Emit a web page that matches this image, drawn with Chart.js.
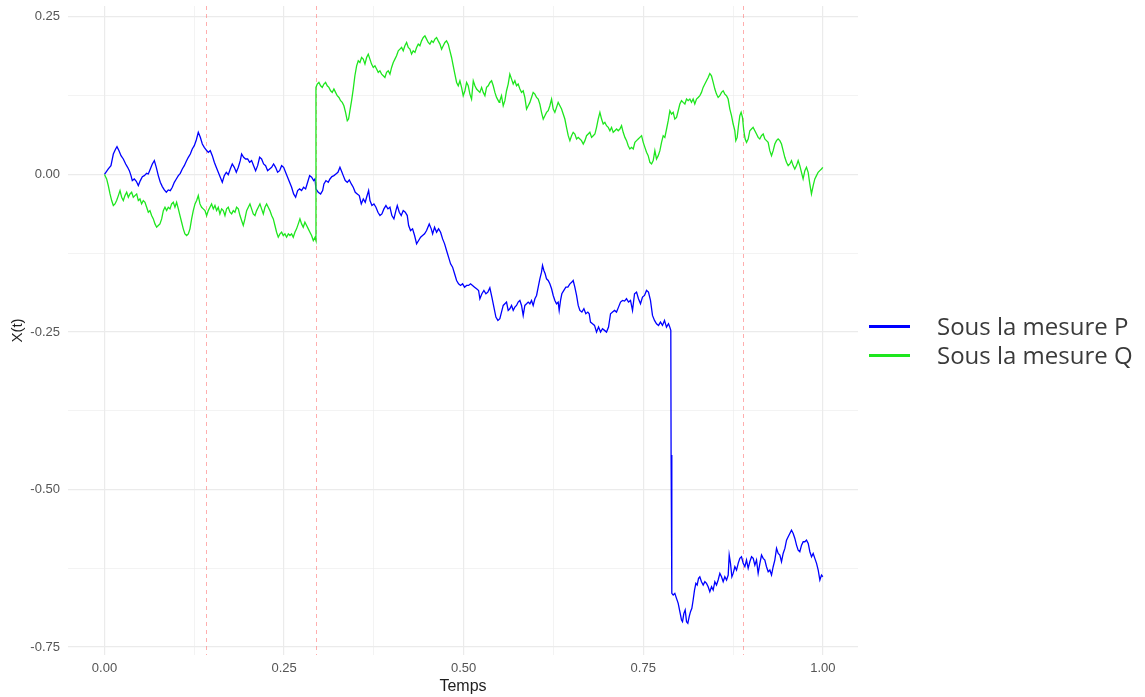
<!DOCTYPE html>
<html lang="fr">
<head>
<meta charset="utf-8">
<title>X(t) sous P et Q</title>
<script src="https://cdn.jsdelivr.net/npm/chart.js@4/dist/chart.umd.min.js"></script>
<style>
  html, body { margin: 0; padding: 0; background: #ffffff; }
  #wrap { position: relative; width: 1145px; height: 697px; }
  #chart { position: absolute; left: 0; top: 0; }
  .legend { position: absolute; left: 869px; font-family: "Open Sans", "Noto Sans", sans-serif; font-size: 24px; color: #3a3a3a; }
  .legend .row { position: absolute; left: 0; white-space: nowrap; height: 30px; line-height: 30px; }
  .legend .key { position: absolute; left: 0; top: 14px; width: 41px; height: 3px; }
  .legend .txt { position: absolute; left: 68px; top: 0; }
</style>
</head>
<body>
<div id="wrap">
  <canvas id="chart" width="1145" height="697"></canvas>
  <div class="legend" id="legend"></div>
</div>
<script>
// Sample paths of X(t): [t, X(t)]
const samplesP = [
  [0,0],[0.0053,0.0087],[0.0090,0.0139],[0.0123,0.0324],[0.0155,0.0404],[0.0174,0.0441],[0.0202,0.0377],[0.0230,0.0298],[0.0262,0.0245],[0.0295,0.0166],
  [0.0322,0.0113],[0.0346,0.0060],[0.0369,-0.0019],[0.0387,-0.0098],[0.0415,-0.0072],[0.0443,-0.0109],[0.0471,-0.0177],[0.0499,-0.0098],[0.0527,-0.0035],[0.0554,-0.0019],
  [0.0587,0.0018],[0.0610,0.0007],[0.0638,0.0087],[0.0666,0.0166],[0.0694,0.0219],[0.0721,0.0113],[0.0749,-0.0019],[0.0777,-0.0125],[0.0805,-0.0193],[0.0833,-0.0246],
  [0.0861,-0.0283],[0.0888,-0.0246],[0.0916,-0.0257],[0.0944,-0.0204],[0.0972,-0.0125],[0.1000,-0.0072],[0.1028,-0.0019],[0.1055,0.0018],[0.1083,0.0087],[0.1111,0.0139],
  [0.1139,0.0208],[0.1167,0.0272],[0.1195,0.0324],[0.1222,0.0404],[0.1250,0.0456],[0.1278,0.0546],[0.1306,0.0668],[0.1334,0.0589],[0.1362,0.0483],[0.1389,0.0429],
  [0.1417,0.0387],[0.1445,0.0351],[0.1473,0.0377],[0.1501,0.0298],[0.1529,0.0193],[0.1556,0.0113],[0.1584,0.0034],[0.1612,-0.0045],[0.1640,-0.0125],[0.1668,-0.0019],
  [0.1696,0.0034],[0.1723,-0.0003],[0.1751,0.0087],[0.1779,0.0166],[0.1807,0.0113],[0.1835,0.0034],[0.1863,0.0113],[0.1890,0.0219],[0.1909,0.0324],[0.1937,0.0272],
  [0.1965,0.0245],[0.1993,0.0245],[0.2020,0.0193],[0.2048,0.0219],[0.2076,0.0139],[0.2104,0.0060],[0.2132,0.0139],[0.2160,0.0272],[0.2187,0.0245],[0.2215,0.0166],
  [0.2243,0.0139],[0.2271,0.0060],[0.2299,0.0087],[0.2327,0.0113],[0.2354,0.0166],[0.2382,0.0113],[0.2410,0.0034],[0.2438,0.0060],[0.2466,0.0139],[0.2494,0.0113],
  [0.2521,0.0034],[0.2549,-0.0045],[0.2577,-0.0125],[0.2605,-0.0204],[0.2633,-0.0310],[0.2661,-0.0362],[0.2689,-0.0257],[0.2716,-0.0230],[0.2744,-0.0257],[0.2772,-0.0204],
  [0.2800,-0.0230],[0.2828,-0.0125],[0.2856,-0.0019],[0.2884,-0.0045],[0.2912,-0.0098],
  [0.2930,-0.0072],[0.2944,-0.0230],[0.2976,-0.0283],[0.3009,-0.0310],[0.3037,-0.0257],[0.3055,-0.0151],[0.3083,-0.0098],[0.3115,-0.0125],[0.3139,-0.0072],[0.3166,-0.0035],
  [0.3194,-0.0019],[0.3222,0.0007],[0.3250,0.0034],[0.3278,0.0113],[0.3306,0.0034],[0.3324,-0.0019],[0.3352,-0.0098],[0.3380,-0.0125],[0.3408,-0.0088],[0.3436,-0.0151],
  [0.3463,-0.0204],[0.3491,-0.0283],[0.3519,-0.0310],[0.3547,-0.0336],[0.3575,-0.0468],[0.3603,-0.0389],[0.3630,-0.0442],[0.3649,-0.0362],[0.3677,-0.0257],[0.3696,-0.0415],
  [0.3723,-0.0494],[0.3751,-0.0468],[0.3779,-0.0521],[0.3807,-0.0600],[0.3835,-0.0653],[0.3862,-0.0626],[0.3890,-0.0547],[0.3918,-0.0494],[0.3946,-0.0547],[0.3974,-0.0521],
  [0.4001,-0.0653],[0.4029,-0.0706],[0.4057,-0.0574],[0.4076,-0.0494],[0.4104,-0.0600],[0.4131,-0.0653],[0.4159,-0.0574],[0.4187,-0.0600],[0.4215,-0.0653],[0.4234,-0.0811],
  [0.4261,-0.0891],[0.4289,-0.0864],[0.4317,-0.0970],[0.4345,-0.1102],[0.4373,-0.1049],[0.4401,-0.0996],[0.4428,-0.0970],[0.4456,-0.0943],[0.4484,-0.0891],[0.4521,-0.0785],
  [0.4549,-0.0864],[0.4568,-0.0943],[0.4595,-0.0838],[0.4623,-0.0917],[0.4651,-0.0864],[0.4679,-0.0917],[0.4707,-0.1023],[0.4735,-0.1102],[0.4762,-0.1208],[0.4790,-0.1313],
  [0.4818,-0.1419],[0.4846,-0.1472],[0.4874,-0.1577],[0.4902,-0.1683],[0.4929,-0.1736],[0.4957,-0.1762],[0.4985,-0.1736],[0.5013,-0.1789],[0.5041,-0.1762],[0.5069,-0.1762],
  [0.5096,-0.1736],[0.5124,-0.1762],[0.5152,-0.1789],[0.5180,-0.1815],[0.5208,-0.1842],[0.5226,-0.1973],[0.5254,-0.1894],[0.5282,-0.1842],[0.5310,-0.1894],[0.5337,-0.1868],
  [0.5365,-0.1799],[0.5393,-0.1947],[0.5421,-0.2106],[0.5449,-0.2264],[0.5477,-0.2317],
  [0.5504,-0.2290],[0.5527,-0.2185],[0.5551,-0.2079],[0.5574,-0.2053],[0.5597,-0.2026],[0.5620,-0.2158],[0.5643,-0.2132],[0.5667,-0.2079],[0.5690,-0.2158],[0.5713,-0.2106],
  [0.5736,-0.2079],[0.5759,-0.2026],[0.5783,-0.2000],[0.5806,-0.2079],[0.5829,-0.2238],[0.5852,-0.2079],[0.5876,-0.2053],[0.5899,-0.2026],[0.5922,-0.2053],[0.5945,-0.2000],
  [0.5968,-0.2079],[0.5992,-0.1973],[0.6015,-0.1921],[0.6038,-0.1789],[0.6061,-0.1657],[0.6084,-0.1551],[0.6098,-0.1445],[0.6117,-0.1524],[0.6135,-0.1577],[0.6154,-0.1657],
  [0.6177,-0.1683],[0.6200,-0.1736],[0.6224,-0.1815],[0.6247,-0.1921],[0.6270,-0.2000],[0.6293,-0.2053],[0.6316,-0.2026],[0.6330,-0.2158],[0.6349,-0.2000],[0.6367,-0.1894],
  [0.6395,-0.1841],[0.6423,-0.1789],[0.6451,-0.1789],[0.6479,-0.1736],[0.6507,-0.1709],[0.6525,-0.1683],[0.6548,-0.1789],[0.6572,-0.1921],[0.6595,-0.2079],[0.6618,-0.2158],
  [0.6646,-0.2185],[0.6674,-0.2132],[0.6701,-0.2211],[0.6729,-0.2185],[0.6748,-0.2211],[0.6766,-0.2343],[0.6794,-0.2370],[0.6822,-0.2396],[0.6850,-0.2502],[0.6878,-0.2423],
  [0.6906,-0.2502],[0.6933,-0.2449],[0.6961,-0.2475],[0.6989,-0.2502],[0.7017,-0.2423],[0.7045,-0.2211],[0.7073,-0.2185],[0.7101,-0.2158],[0.7128,-0.2185],[0.7156,-0.2106],
  [0.7184,-0.2026],[0.7212,-0.2000],[0.7240,-0.2010],[0.7267,-0.1973],[0.7295,-0.2026],[0.7323,-0.2000],[0.7351,-0.2158],[0.7379,-0.1894],[0.7407,-0.1868],[0.7434,-0.1973],
  [0.7462,-0.2053],[0.7490,-0.1947],[0.7518,-0.1921],[0.7546,-0.1841],[0.7573,-0.1868],[0.7601,-0.2000],[0.7629,-0.2238],[0.7657,-0.2317],[0.7685,-0.2370],[0.7713,-0.2396],
  [0.7740,-0.2343],[0.7768,-0.2396],[0.7796,-0.2317],[0.7824,-0.2423],[0.7852,-0.2370],[0.7870,-0.2423],[0.7884,-0.2475],
  [0.7888,-0.4453],[0.7898,-0.6649],
  [0.7917,-0.6675],[0.7940,-0.6649],[0.7963,-0.6728],[0.7987,-0.6807],[0.8010,-0.6939],[0.8033,-0.7071],[0.8047,-0.7098],[0.8066,-0.6966],[0.8084,-0.6913],[0.8103,-0.7098],
  [0.8121,-0.7124],[0.8140,-0.7019],[0.8158,-0.6939],[0.8177,-0.6886],[0.8195,-0.6754],[0.8214,-0.6596],[0.8233,-0.6490],[0.8251,-0.6517],[0.8270,-0.6411],[0.8288,-0.6385],
  [0.8311,-0.6464],[0.8335,-0.6517],[0.8358,-0.6464],[0.8381,-0.6490],[0.8404,-0.6543],[0.8427,-0.6622],[0.8451,-0.6543],[0.8474,-0.6596],[0.8497,-0.6464],[0.8520,-0.6517],
  [0.8543,-0.6437],[0.8567,-0.6332],[0.8590,-0.6385],[0.8613,-0.6464],[0.8636,-0.6385],[0.8660,-0.6437],[0.8683,-0.6358],[0.8697,-0.6041],[0.8715,-0.6173],[0.8734,-0.6385],
  [0.8752,-0.6332],[0.8776,-0.6226],[0.8799,-0.6279],[0.8822,-0.6173],[0.8845,-0.6094],[0.8868,-0.6068],[0.8892,-0.6173],[0.8915,-0.6226],[0.8938,-0.6120],[0.8961,-0.6252],
  [0.8984,-0.6147],[0.9008,-0.6068],[0.9031,-0.6094],[0.9054,-0.6200],[0.9077,-0.6120],[0.9100,-0.6332],[0.9124,-0.6173],[0.9147,-0.6041],[0.9170,-0.6094],[0.9193,-0.6120],
  [0.9216,-0.6226],[0.9240,-0.6305],[0.9263,-0.6279],[0.9286,-0.6358],[0.9309,-0.6226],[0.9332,-0.6120],[0.9356,-0.5935],[0.9379,-0.6015],[0.9402,-0.6041],[0.9425,-0.6147],
  [0.9448,-0.6015],[0.9472,-0.5935],[0.9495,-0.5804],[0.9518,-0.5751],[0.9541,-0.5698],[0.9564,-0.5645],[0.9588,-0.5698],[0.9611,-0.5777],[0.9634,-0.5883],[0.9657,-0.5962],
  [0.9680,-0.5988],[0.9704,-0.5883],[0.9727,-0.5830],[0.9750,-0.5830],[0.9773,-0.5804],[0.9797,-0.5856],[0.9820,-0.5988],[0.9843,-0.6068],[0.9866,-0.6015],[0.9889,-0.6094],
  [0.9913,-0.6173],[0.9936,-0.6279],[0.9959,-0.6437],[0.9982,-0.6358],[1.0,-0.6385]
];

const samplesQ = [
  [0,0],[0.0030,-0.0072],[0.0053,-0.0177],[0.0077,-0.0309],[0.0100,-0.0415],[0.0123,-0.0494],[0.0146,-0.0468],[0.0169,-0.0415],[0.0193,-0.0336],[0.0216,-0.0257],
  [0.0239,-0.0362],[0.0262,-0.0415],[0.0285,-0.0336],[0.0309,-0.0283],[0.0332,-0.0362],[0.0355,-0.0310],[0.0378,-0.0283],[0.0401,-0.0362],[0.0424,-0.0336],[0.0448,-0.0310],
  [0.0471,-0.0415],[0.0494,-0.0389],[0.0517,-0.0468],[0.0540,-0.0415],[0.0564,-0.0442],[0.0587,-0.0521],[0.0610,-0.0600],[0.0633,-0.0574],[0.0656,-0.0653],[0.0680,-0.0706],
  [0.0703,-0.0785],[0.0726,-0.0838],[0.0749,-0.0811],[0.0772,-0.0785],[0.0796,-0.0706],[0.0819,-0.0574],[0.0842,-0.0521],[0.0865,-0.0574],[0.0888,-0.0521],[0.0912,-0.0547],
  [0.0935,-0.0468],[0.0958,-0.0442],[0.0981,-0.0521],[0.1004,-0.0442],[0.1028,-0.0547],[0.1051,-0.0653],[0.1074,-0.0759],[0.1097,-0.0864],[0.1120,-0.0943],[0.1144,-0.0970],
  [0.1167,-0.0943],[0.1190,-0.0864],[0.1213,-0.0706],[0.1236,-0.0574],[0.1260,-0.0468],[0.1283,-0.0415],[0.1306,-0.0336],[0.1329,-0.0468],[0.1352,-0.0521],[0.1375,-0.0547],
  [0.1399,-0.0574],[0.1422,-0.0653],[0.1445,-0.0574],[0.1468,-0.0521],[0.1491,-0.0468],[0.1515,-0.0547],[0.1538,-0.0494],[0.1561,-0.0574],[0.1584,-0.0521],[0.1607,-0.0626],
  [0.1631,-0.0547],[0.1654,-0.0574],[0.1677,-0.0653],[0.1700,-0.0547],[0.1723,-0.0521],[0.1747,-0.0600],[0.1770,-0.0626],[0.1793,-0.0574],[0.1816,-0.0600],[0.1839,-0.0521],
  [0.1863,-0.0547],[0.1886,-0.0653],[0.1909,-0.0732],[0.1932,-0.0811],[0.1955,-0.0706],[0.1979,-0.0574],[0.2002,-0.0521],[0.2025,-0.0468],[0.2048,-0.0547],[0.2071,-0.0626],
  [0.2095,-0.0653],[0.2118,-0.0574],[0.2141,-0.0521],[0.2164,-0.0468],[0.2187,-0.0547],[0.2211,-0.0626],[0.2234,-0.0521],[0.2257,-0.0468],[0.2280,-0.0521],[0.2303,-0.0574],
  [0.2327,-0.0653],[0.2350,-0.0706],[0.2373,-0.0811],[0.2396,-0.0917],[0.2419,-0.0996],[0.2443,-0.0943],[0.2466,-0.0917],[0.2489,-0.0970],[0.2512,-0.0943],[0.2535,-0.0996],
  [0.2559,-0.0943],[0.2582,-0.0970],[0.2605,-0.0943],[0.2628,-0.0996],[0.2651,-0.0917],[0.2674,-0.0864],[0.2698,-0.0785],[0.2721,-0.0706],[0.2744,-0.0785],[0.2767,-0.0838],
  [0.2790,-0.0759],[0.2814,-0.0811],[0.2837,-0.0864],[0.2860,-0.0917],[0.2883,-0.0970],[0.2907,-0.1049],[0.2930,-0.1000],[0.2944,-0.1050],
  [0.2944,0.1381],[0.2962,0.1434],[0.2985,0.1460],[0.3009,0.1407],[0.3032,0.1381],[0.3055,0.1434],[0.3078,0.1460],[0.3101,0.1407],[0.3124,0.1381],[0.3148,0.1328],
  [0.3171,0.1302],[0.3194,0.1355],[0.3217,0.1302],[0.3240,0.1249],[0.3264,0.1222],[0.3287,0.1170],[0.3310,0.1143],[0.3333,0.1090],[0.3356,0.0985],[0.3380,0.0853],
  [0.3398,0.0879],[0.3417,0.1011],[0.3440,0.1170],[0.3463,0.1355],[0.3486,0.1566],[0.3510,0.1724],[0.3533,0.1803],[0.3556,0.1777],[0.3579,0.1856],[0.3602,0.1830],
  [0.3626,0.1751],[0.3649,0.1856],[0.3672,0.1909],[0.3695,0.1830],[0.3718,0.1751],[0.3742,0.1698],[0.3765,0.1724],[0.3788,0.1672],[0.3811,0.1619],[0.3834,0.1645],
  [0.3858,0.1592],[0.3881,0.1566],[0.3904,0.1539],[0.3927,0.1619],[0.3950,0.1645],[0.3974,0.1592],[0.3997,0.1698],[0.4020,0.1777],[0.4043,0.1830],[0.4066,0.1883],
  [0.4090,0.1962],[0.4113,0.1988],[0.4136,0.2015],[0.4159,0.1962],[0.4182,0.2041],[0.4206,0.2094],[0.4229,0.2015],[0.4252,0.1988],[0.4275,0.1909],[0.4298,0.1962],
  [0.4322,0.1936],[0.4345,0.2015],[0.4368,0.2068],[0.4391,0.2041],[0.4414,0.2120],[0.4438,0.2173],[0.4461,0.2199],[0.4484,0.2147],[0.4507,0.2094],[0.4530,0.2068],
  [0.4554,0.2120],[0.4577,0.2094],[0.4600,0.2147],[0.4623,0.2173],[0.4646,0.2120],[0.4670,0.2068],[0.4693,0.1988],[0.4716,0.2041],[0.4739,0.2094],[0.4762,0.2120],
  [0.4786,0.2068],[0.4809,0.1962],[0.4832,0.1856],[0.4855,0.1724],[0.4878,0.1592],[0.4902,0.1460],[0.4925,0.1407],[0.4948,0.1486],[0.4971,0.1381],[0.4994,0.1249],
  [0.5018,0.1328],[0.5041,0.1460],[0.5064,0.1407],[0.5087,0.1275],[0.5110,0.1196],[0.5134,0.1486],[0.5157,0.1407],[0.5180,0.1355],[0.5203,0.1328],[0.5226,0.1302],
  [0.5250,0.1381],[0.5273,0.1302],[0.5296,0.1249],[0.5319,0.1381],[0.5342,0.1407],[0.5366,0.1460],[0.5389,0.1486],[0.5412,0.1407],[0.5435,0.1302],[0.5458,0.1222],
  [0.5495,0.1143],[0.5504,0.1170],
  [0.5527,0.1249],[0.5551,0.1090],[0.5574,0.1170],[0.5597,0.1328],[0.5620,0.1434],[0.5643,0.1592],[0.5667,0.1513],[0.5690,0.1434],[0.5713,0.1486],[0.5736,0.1407],
  [0.5759,0.1434],[0.5783,0.1355],[0.5806,0.1302],[0.5829,0.1328],[0.5852,0.1222],[0.5876,0.1037],[0.5899,0.1090],[0.5922,0.1143],[0.5945,0.1222],[0.5968,0.1302],
  [0.5992,0.1275],[0.6015,0.1222],[0.6038,0.1196],[0.6061,0.1117],[0.6084,0.0985],[0.6108,0.0879],[0.6131,0.0932],[0.6154,0.0985],[0.6177,0.1011],[0.6200,0.1090],
  [0.6224,0.1196],[0.6247,0.1037],[0.6270,0.0985],[0.6293,0.1064],[0.6316,0.1143],[0.6340,0.1090],[0.6363,0.1037],[0.6386,0.0958],[0.6409,0.0879],[0.6432,0.0747],
  [0.6456,0.0615],[0.6479,0.0536],[0.6502,0.0615],[0.6525,0.0668],[0.6548,0.0641],[0.6572,0.0562],[0.6595,0.0588],[0.6618,0.0562],[0.6641,0.0536],[0.6665,0.0483],
  [0.6688,0.0536],[0.6711,0.0615],[0.6734,0.0641],[0.6757,0.0668],[0.6781,0.0588],[0.6804,0.0615],[0.6827,0.0641],[0.6850,0.0747],[0.6873,0.0879],[0.6897,0.0985],
  [0.6920,0.0879],[0.6943,0.0800],[0.6966,0.0826],[0.6989,0.0773],[0.7013,0.0747],[0.7036,0.0694],[0.7059,0.0747],[0.7082,0.0668],[0.7105,0.0694],[0.7129,0.0721],
  [0.7152,0.0694],[0.7175,0.0721],[0.7198,0.0773],[0.7221,0.0668],[0.7245,0.0588],[0.7268,0.0536],[0.7291,0.0456],[0.7314,0.0404],[0.7337,0.0430],[0.7361,0.0404],
  [0.7384,0.0509],[0.7407,0.0536],[0.7430,0.0562],[0.7453,0.0588],[0.7477,0.0615],[0.7500,0.0509],[0.7523,0.0430],[0.7546,0.0351],[0.7569,0.0298],[0.7593,0.0192],
  [0.7616,0.0166],[0.7639,0.0219],[0.7662,0.0377],[0.7685,0.0245],[0.7709,0.0298],[0.7732,0.0377],[0.7755,0.0509],[0.7778,0.0615],[0.7801,0.0588],[0.7825,0.0721],
  [0.7848,0.0853],[0.7871,0.1011],[0.7894,0.0958],[0.7917,0.0985],[0.7940,0.0879],[0.7964,0.0905],[0.7987,0.1011],[0.8010,0.1117],[0.8033,0.1170],[0.8056,0.1143],
  [0.8080,0.1117],[0.8103,0.1196],[0.8126,0.1170],[0.8149,0.1196],
  [0.8172,0.1143],[0.8195,0.1196],[0.8218,0.1117],[0.8242,0.1196],[0.8265,0.1222],[0.8288,0.1249],[0.8311,0.1302],[0.8334,0.1381],[0.8358,0.1434],[0.8381,0.1486],
  [0.8404,0.1539],[0.8427,0.1602],[0.8450,0.1566],[0.8474,0.1460],[0.8497,0.1355],[0.8520,0.1275],[0.8543,0.1222],[0.8566,0.1249],[0.8590,0.1302],[0.8613,0.1328],
  [0.8636,0.1275],[0.8659,0.1249],[0.8682,0.1196],[0.8706,0.1037],[0.8729,0.0932],[0.8752,0.0800],[0.8775,0.0694],[0.8789,0.0536],[0.8808,0.0588],[0.8826,0.0773],
  [0.8845,0.0932],[0.8863,0.0985],[0.8882,0.0905],[0.8900,0.0694],[0.8919,0.0562],[0.8938,0.0509],[0.8961,0.0562],[0.8984,0.0694],[0.9007,0.0721],[0.9030,0.0747],
  [0.9054,0.0694],[0.9077,0.0641],[0.9100,0.0588],[0.9123,0.0562],[0.9146,0.0615],[0.9170,0.0641],[0.9193,0.0562],[0.9216,0.0536],[0.9239,0.0509],[0.9262,0.0377],
  [0.9286,0.0298],[0.9309,0.0377],[0.9332,0.0483],[0.9355,0.0536],[0.9378,0.0562],[0.9402,0.0536],[0.9425,0.0483],[0.9448,0.0377],[0.9471,0.0272],[0.9494,0.0192],
  [0.9518,0.0140],[0.9541,0.0166],[0.9564,0.0219],[0.9587,0.0140],[0.9610,0.0087],[0.9634,0.0140],[0.9657,0.0219],[0.9680,0.0140],[0.9703,0.0034],[0.9726,-0.0071],
  [0.9750,0.0060],[0.9773,0.0113],[0.9796,0.0034],[0.9819,-0.0151],[0.9842,-0.0309],[0.9866,-0.0177],[0.9889,-0.0071],[0.9912,-0.0019],[0.9935,0.0034],[0.9958,0.0060],
  [0.9982,0.0087],[1.0,0.0113]
];

// Dashed vertical markers (times)
const markTimes = [0.1413, 0.2944, 0.8887];

// Axis ticks: majors carry labels, minors only draw grid lines
const xMajorTicks = [0, 0.25, 0.5, 0.75, 1];
const xMinorTicks = [0.125, 0.375, 0.625, 0.875];
const yMajorTicks = [-0.75, -0.5, -0.25, 0, 0.25];
const yMinorTicks = [-0.625, -0.375, -0.125, 0.125];

const seriesNames = ['Sous la mesure P', 'Sous la mesure Q'];
const seriesColors = ['#0000ff', '#1ee61e'];

const toPoints = arr => arr.map(([t, v]) => ({ x: t, y: v }));

const tickSet = (majors, minors) => majors.concat(minors).sort((a, b) => a - b).map(v => ({ value: v }));
const isMajor = (list, v) => list.some(m => Math.abs(m - v) < 1e-9);

const gridStyle = majors => ({
  drawTicks: false,
  color: '#ebebeb',
  lineWidth: ctx => (ctx.tick && isMajor(majors, ctx.tick.value)) ? 1.2 : 0.6
});

const markLines = {
  id: 'markLines',
  beforeDatasetsDraw(chart) {
    const { ctx, chartArea, scales } = chart;
    ctx.save();
    ctx.strokeStyle = 'rgba(255,120,120,0.6)';
    ctx.lineWidth = 1;
    ctx.setLineDash([4, 4]);
    for (const t of markTimes) {
      const px = Math.round(scales.x.getPixelForValue(t)) + 0.5;
      ctx.beginPath();
      ctx.moveTo(px, chartArea.top);
      ctx.lineTo(px, chartArea.bottom);
      ctx.stroke();
    }
    ctx.restore();
  }
};

const tickFont = { family: '"Liberation Sans", Arial, sans-serif', size: 13 };
const titleFont = { family: '"Liberation Sans", Arial, sans-serif', size: 16 };

new Chart(document.getElementById('chart'), {
  type: 'line',
  data: {
    datasets: [
      { label: seriesNames[0], data: toPoints(samplesP), borderColor: seriesColors[0], borderWidth: 1.3, pointRadius: 0, tension: 0, order: 2 },
      { label: seriesNames[1], data: toPoints(samplesQ), borderColor: seriesColors[1], borderWidth: 1.3, pointRadius: 0, tension: 0, order: 1 }
    ]
  },
  options: {
    responsive: false,
    animation: false,
    layout: { padding: { top: 6, right: 287, left: 0, bottom: 0 } },
    plugins: { legend: { display: false }, tooltip: { enabled: false } },
    scales: {
      x: {
        type: 'linear',
        min: -0.0508,
        max: 1.049,
        afterBuildTicks: s => { s.ticks = tickSet(xMajorTicks, xMinorTicks); },
        afterFit: s => { s.height = 42; s.paddingLeft = 0; s.paddingRight = 0; },
        grid: gridStyle(xMajorTicks),
        border: { display: false },
        ticks: {
          padding: 6,
          color: '#555555',
          font: tickFont,
          maxRotation: 0,
          autoSkip: false,
          callback: v => isMajor(xMajorTicks, v) ? v.toFixed(2) : ''
        },
        title: { display: true, text: 'Temps', color: '#1e1e1e', font: titleFont, padding: { top: 0, bottom: 1 } }
      },
      y: {
        type: 'linear',
        min: -0.7627,
        max: 0.2673,
        afterBuildTicks: s => { s.ticks = tickSet(yMajorTicks, yMinorTicks); },
        afterFit: s => { s.width = 68; s.paddingTop = 0; s.paddingBottom = 0; },
        grid: gridStyle(yMajorTicks),
        border: { display: false },
        ticks: {
          padding: 8,
          color: '#555555',
          font: tickFont,
          autoSkip: false,
          callback: v => isMajor(yMajorTicks, v) ? v.toFixed(2) : ''
        },
        title: { display: true, text: 'X(t)', color: '#1e1e1e', font: { family: titleFont.family, size: 15 }, padding: { top: 9, bottom: 0 } }
      }
    }
  },
  plugins: [markLines]
});

// Legend beside the panel
const legend = document.getElementById('legend');
const rowTops = [311, 340];
seriesNames.forEach((name, i) => {
  const row = document.createElement('div');
  row.className = 'row';
  row.style.top = rowTops[i] + 'px';
  const key = document.createElement('div');
  key.className = 'key';
  key.style.background = seriesColors[i];
  const txt = document.createElement('div');
  txt.className = 'txt';
  txt.textContent = name;
  row.appendChild(key);
  row.appendChild(txt);
  legend.appendChild(row);
});
</script>
</body>
</html>
